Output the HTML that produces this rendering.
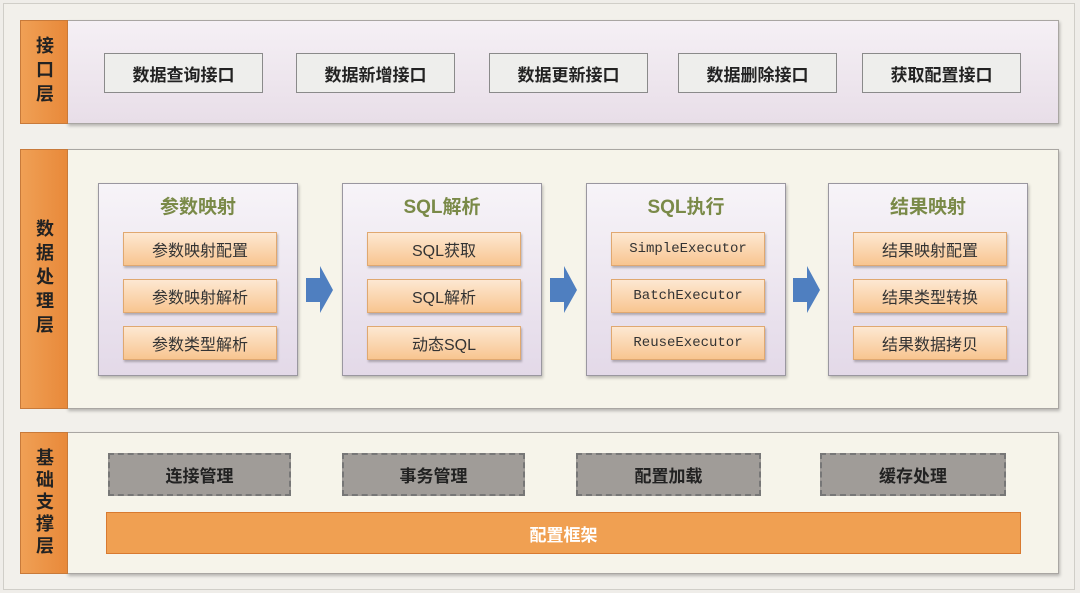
<!DOCTYPE html>
<html><head><meta charset="utf-8"><style>
body{margin:0;width:1080px;height:593px;background:#efede9;position:relative;overflow:hidden;font-family:"Liberation Sans","Noto Sans CJK SC",sans-serif}
div{position:absolute;box-sizing:border-box}
.frame{left:3px;top:3px;width:1072px;height:587px;border:1px solid #d0cec8;background:#f2f0eb}
.lab{left:20px;width:48px;background:linear-gradient(90deg,#f0a055,#e8893a);border:1px solid #c87a3a;color:#222;font-weight:bold;font-size:18px;display:flex;align-items:center;justify-content:center;text-align:center;line-height:24px;writing-mode:vertical-rl;letter-spacing:6px}
.pan{left:67px;width:992px;border:1px solid #a9a6a2;box-shadow:1px 2px 3px rgba(0,0,0,.25)}
.btn{top:53px;height:40px;width:159px;background:#eeeeec;border:1.5px solid #8a8a8a;font-weight:bold;font-size:17px;color:#222;display:flex;align-items:center;justify-content:center}
.box{top:183px;height:193px;width:200px;border:1.5px solid #9a97a0;background:linear-gradient(180deg,#f7f4f8,#e3d9e8);box-shadow:1px 2px 3px rgba(0,0,0,.25)}
.tt{left:0;width:100%;top:8px;text-align:center;font-size:19px;font-weight:bold;color:#7a8a48}
.it{left:24px;width:154px;height:34px;background:linear-gradient(180deg,#fde8d2,#f8c590);border:1px solid #e0a870;box-shadow:1px 2px 2px rgba(0,0,0,.25);display:flex;align-items:center;justify-content:center;font-size:16px;color:#333}
.mono{font-family:"Liberation Mono",monospace;font-size:14px}
.dash{top:453px;height:43px;background:#a09c98;border:2px dashed #777;font-weight:bold;font-size:17px;color:#222;display:flex;align-items:center;justify-content:center}
</style></head><body>
<div class="frame"></div>
<div class="pan" style="top:20px;height:104px;background:linear-gradient(180deg,#f5f0f5,#e8dee8)"></div>
<div class="lab" style="top:20px;height:104px">接口层</div>
<div class="btn" style="left:104px">数据查询接口</div>
<div class="btn" style="left:296px">数据新增接口</div>
<div class="btn" style="left:489px">数据更新接口</div>
<div class="btn" style="left:678px">数据删除接口</div>
<div class="btn" style="left:862px">获取配置接口</div>

<div class="pan" style="top:149px;height:260px;background:#f6f4ea"></div>
<div class="lab" style="top:149px;height:260px">数据处理层</div>
<div class="box" style="left:98px"><div class="tt">参数映射</div>
<div class="it" style="top:48px">参数映射配置</div><div class="it" style="top:95px">参数映射解析</div><div class="it" style="top:142px">参数类型解析</div></div>
<div class="box" style="left:342px"><div class="tt">SQL解析</div>
<div class="it" style="top:48px">SQL获取</div><div class="it" style="top:95px">SQL解析</div><div class="it" style="top:142px">动态SQL</div></div>
<div class="box" style="left:586px"><div class="tt">SQL执行</div>
<div class="it mono" style="top:48px">SimpleExecutor</div><div class="it mono" style="top:95px">BatchExecutor</div><div class="it mono" style="top:142px">ReuseExecutor</div></div>
<div class="box" style="left:828px"><div class="tt">结果映射</div>
<div class="it" style="top:48px">结果映射配置</div><div class="it" style="top:95px">结果类型转换</div><div class="it" style="top:142px">结果数据拷贝</div></div>
<svg style="position:absolute;left:0;top:0" width="1080" height="593">
<g fill="#4f7fc0">
<polygon points="306,278 320,278 320,266 333,290 320,313 320,302 306,302"/>
<polygon points="550,278 564,278 564,266 577,290 564,313 564,302 550,302"/>
<polygon points="793,278 807,278 807,266 820,290 807,313 807,302 793,302"/>
</g></svg>

<div class="pan" style="top:432px;height:142px;background:#f6f4ea"></div>
<div class="lab" style="top:432px;height:142px;letter-spacing:4px">基础支撑层</div>
<div class="dash" style="left:108px;width:183px">连接管理</div>
<div class="dash" style="left:342px;width:183px">事务管理</div>
<div class="dash" style="left:576px;width:185px">配置加载</div>
<div class="dash" style="left:820px;width:186px">缓存处理</div>
<div style="left:106px;top:512px;width:915px;height:42px;background:#f0a052;border:1.5px solid #d87a30;color:#fff;font-weight:bold;font-size:17px;display:flex;align-items:center;justify-content:center">配置框架</div>
</body></html>
